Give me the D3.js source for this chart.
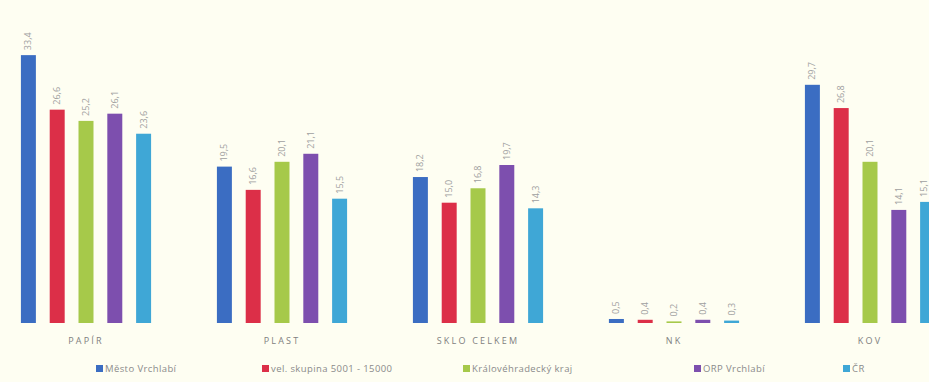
<!DOCTYPE html>
<html><head><meta charset="utf-8">
<script src="https://cdn.jsdelivr.net/npm/d3@7/dist/d3.min.js"></script>
<style>
html,body{margin:0;padding:0;background:#fefef2;}
svg{display:block;font-family:"Open Sans",Lato,sans-serif;}
</style></head>
<body><svg id="c" width="929" height="382"></svg>
<script>
const categories = ["PAPÍR","PLAST","SKLO CELKEM","NK","KOV"];
const seriesNames = ["Město Vrchlabí","vel. skupina 5001 - 15000","Královéhradecký kraj","ORP Vrchlabí","ČR"];
const colors = ["#3b6dc2","#dc2f48","#a6c94a","#7d4fae","#3fa7d6"];
const mestoVrchlabi = [33.4, 19.5, 18.2, 0.5, 29.7];
const velSkupina    = [26.6, 16.6, 15.0, 0.4, 26.8];
const kralovehradecky = [25.2, 20.1, 16.8, 0.2, 20.1];
const orpVrchlabi   = [26.1, 21.1, 19.7, 0.4, 14.1];
const cr            = [23.6, 15.5, 14.3, 0.3, 15.1];
const series = [mestoVrchlabi, velSkupina, kralovehradecky, orpVrchlabi, cr];

const W = 929;
const svg = d3.select("#c");
const x0 = d3.scaleBand().domain(categories).range([-12, 968]);
const x1 = d3.scaleBand().domain(d3.range(5)).range([26, 170]).paddingInner(0.48).paddingOuter(0.24);
const y = d3.scaleLinear().domain([0, 40]).range([323, 2.2]);
const fmt = v => d3.format(".1f")(v).replace(".", ",");

const g = svg.append("g").selectAll("g").data(categories).join("g")
  .attr("transform", d => `translate(${x0(d)},0)`);

g.each(function(cat, ci){
  const sel = d3.select(this);
  const gx = x0(cat);
  series.forEach((s, si) => {
    const bx = x1(si), bw = x1.bandwidth();
    sel.append("rect").attr("x", bx).attr("y", y(s[ci])).attr("width", bw)
      .attr("height", y(0) - y(s[ci])).attr("fill", colors[si]);
    const tx = Math.min(bx + bw/2 + 3, W - 2 - gx);
    sel.append("text")
      .attr("transform", `translate(${tx},${y(s[ci]) - 5}) rotate(-90)`)
      .attr("font-size", 9).attr("fill", "#a0a0a0").attr("text-anchor", "start")
      .text(fmt(s[ci]));
  });
  sel.append("text").attr("x", x0.bandwidth()/2).attr("y", 344)
    .attr("text-anchor", "middle").attr("font-size", 9).attr("letter-spacing", 2.2)
    .attr("fill", "#808080").text(cat);
});

const legendX = [96, 262, 463, 694, 843];
const lg = svg.append("g").selectAll("g").data(seriesNames).join("g")
  .attr("transform", (d, i) => `translate(${legendX[i]},372)`);
lg.append("rect").attr("x", 0).attr("y", -7).attr("width", 7).attr("height", 7)
  .attr("fill", (d, i) => colors[i]);
lg.append("text").attr("x", 9).attr("y", 0).attr("font-size", 9.5)
  .attr("letter-spacing", 0.4).attr("fill", "#8a8a8a").text(d => d);
</script></body></html>
